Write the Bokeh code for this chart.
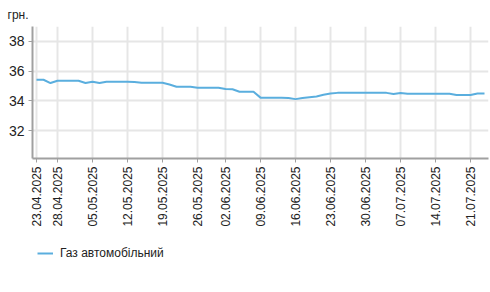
import math
import datetime as dt
from bokeh.plotting import figure
from bokeh.layouts import column
from bokeh.models import Range1d, FixedTicker, Legend, LegendItem
from bokeh.embed import file_html
from bokeh.resources import INLINE

# Trading dates (weekdays, one day without data in the week of 26.05)
start = dt.date(2025, 4, 23)
end = dt.date(2025, 7, 23)
missing = {dt.date(2025, 5, 29)}
dates = []
d = start
while d <= end:
    if d.weekday() < 5 and d not in missing:
        dates.append(d)
    d += dt.timedelta(days=1)

series_name = "Газ автомобільний"
prices = [
    35.42, 35.42, 35.20, 35.35, 35.35, 35.35, 35.35, 35.20, 35.29, 35.20,
    35.29, 35.29, 35.29, 35.29, 35.27, 35.22, 35.22, 35.22, 35.22, 35.10,
    34.95, 34.95, 34.95, 34.89, 34.89, 34.89, 34.89, 34.80, 34.78, 34.62,
    34.62, 34.62, 34.22, 34.22, 34.22, 34.22, 34.20, 34.12, 34.20, 34.25,
    34.30, 34.42, 34.50, 34.54, 34.54, 34.54, 34.54, 34.54, 34.54, 34.54,
    34.54, 34.47, 34.53, 34.48, 34.48, 34.48, 34.48, 34.48, 34.48, 34.48,
    34.40, 34.40, 34.40, 34.50, 34.50,
]
tick_labels = ["23.04.2025", "28.04.2025", "05.05.2025", "12.05.2025", "19.05.2025",
               "26.05.2025", "02.06.2025", "09.06.2025", "16.06.2025", "23.06.2025",
               "30.06.2025", "07.07.2025", "14.07.2025", "21.07.2025"]
y_ticks = [32, 34, 36, 38]
y_unit = "грн."

date_str = [x.strftime("%d.%m.%Y") for x in dates]
xs = list(range(len(date_str)))
tick_pos = [date_str.index(t) for t in tick_labels]

FONT = "Liberation Sans"
LINE_COLOR = "#5aaede"

p = figure(width=490, height=240, output_backend="svg", toolbar_location=None,
           x_range=Range1d(-0.57, len(xs) - 1 + 0.57), y_range=Range1d(30.13, 39),
           min_border_left=32, min_border_right=2, min_border_top=25, min_border_bottom=82)
p.outline_line_color = None
p.background_fill_color = "white"
p.border_fill_color = "white"

p.title.text = y_unit
p.title.align = "left"
p.title.offset = -25
p.title.text_font = FONT
p.title.text_font_size = "12px"
p.title.text_font_style = "normal"
p.title.text_color = "#222222"

r = p.line(xs, prices, line_color=LINE_COLOR, line_width=2)

p.xaxis.ticker = FixedTicker(ticks=tick_pos)
p.xaxis.major_label_overrides = {pos: lab for pos, lab in zip(tick_pos, tick_labels)}
p.xaxis.major_label_orientation = math.pi / 2
p.yaxis.ticker = FixedTicker(ticks=y_ticks)

for ax in (p.xaxis[0], p.yaxis[0]):
    ax.axis_line_color = "#a0a0a0"
    ax.axis_line_width = 2
    ax.major_tick_line_color = "#a0a0a0"
    ax.major_tick_line_width = 1
    ax.major_tick_out = 4
    ax.major_tick_in = 0
    ax.minor_tick_line_color = None
    ax.major_label_text_font = FONT
    ax.major_label_text_color = "#222222"
p.xaxis.major_label_text_font_size = "12px"
p.yaxis.major_label_text_font_size = "14px"
p.xaxis.major_label_standoff = 4
p.yaxis.major_label_standoff = 4

p.xgrid.ticker = FixedTicker(ticks=tick_pos)
p.ygrid.ticker = FixedTicker(ticks=y_ticks)
p.grid.grid_line_color = "#e6e6e6"
p.grid.grid_line_width = 2

# Legend strip below the chart (its line lies outside the visible range)
lg = figure(width=490, height=52, output_backend="svg", toolbar_location=None,
            x_range=Range1d(0, 1), y_range=Range1d(0, 1),
            x_axis_location=None, y_axis_location=None,
            min_border_left=0, min_border_right=0, min_border_top=0, min_border_bottom=0)
lg.grid.visible = False
lg.outline_line_color = None
lr = lg.line([-2, -1], [-2, -1], line_color=LINE_COLOR, line_width=2)
legend = Legend(items=[LegendItem(label=series_name, renderers=[lr])],
                location=(5, 32), orientation="horizontal",
                label_text_font=FONT, label_text_font_size="12px",
                label_text_color="#222222", border_line_color=None,
                background_fill_alpha=0, glyph_width=16, glyph_height=12,
                margin=0, padding=4, label_standoff=7)
lg.add_layout(legend, "center")

layout = column(p, lg, spacing=0)
open("out.html", "w").write(file_html(layout, INLINE))
